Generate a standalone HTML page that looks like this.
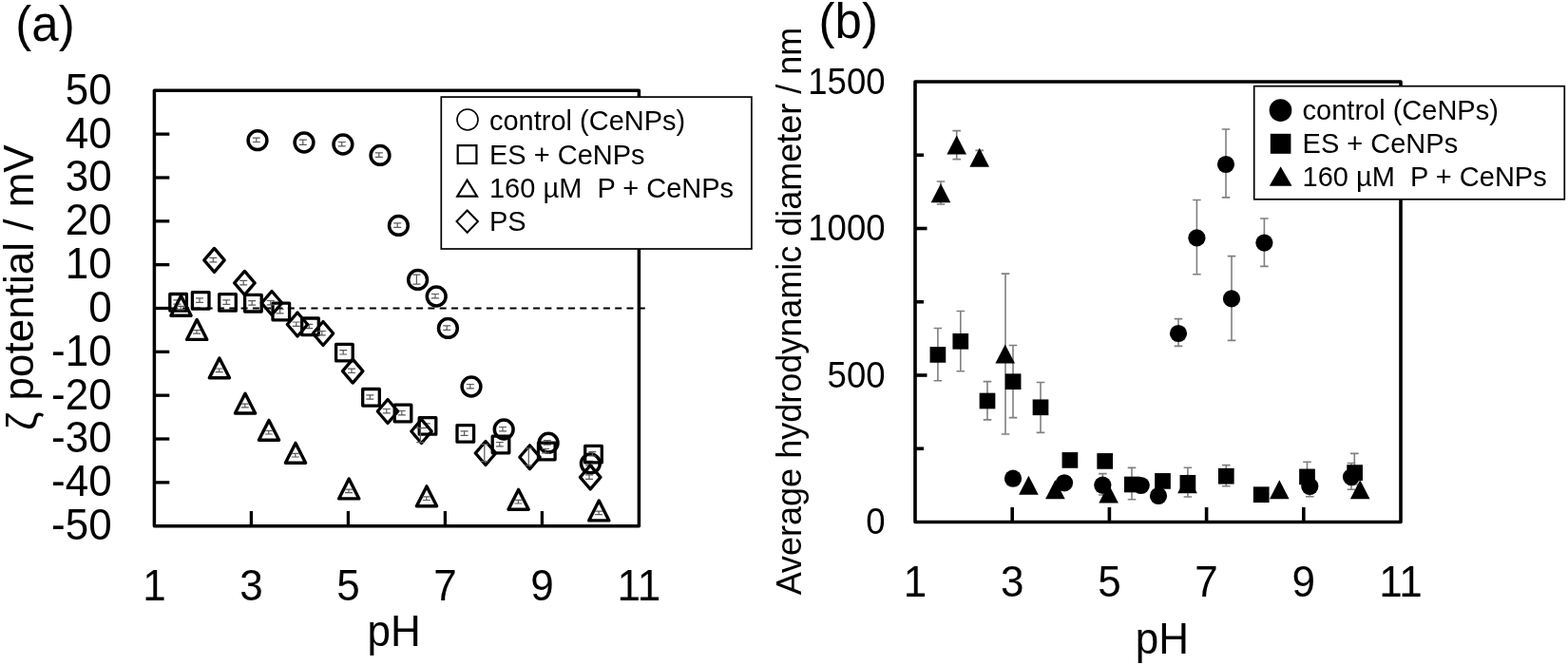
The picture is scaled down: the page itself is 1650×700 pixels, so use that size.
<!DOCTYPE html><html><head><meta charset="utf-8"><title>Figure</title>
<style>html,body{margin:0;padding:0;background:#fff;}svg{display:block;}</style></head><body>
<svg width="1650" height="700" viewBox="0 0 1650 700" style="font-family:'Liberation Sans',Arial,Helvetica,sans-serif" fill="#000">
<rect width="1650" height="700" fill="#fff"/>
<text x="16.30" y="43.20" font-size="51" text-anchor="start">(a)</text>
<text transform="translate(35,453) rotate(-90) scale(1,1.02)" font-size="44"><tspan dy="3">ζ</tspan><tspan dy="-3"> potential / mV</tspan></text>
<text transform="translate(117.60,109.70) scale(1,1.04)" font-size="44" text-anchor="end">50</text>
<text transform="translate(117.60,155.54) scale(1,1.04)" font-size="44" text-anchor="end">40</text>
<text transform="translate(117.60,201.38) scale(1,1.04)" font-size="44" text-anchor="end">30</text>
<text transform="translate(117.60,247.22) scale(1,1.04)" font-size="44" text-anchor="end">20</text>
<text transform="translate(117.60,293.06) scale(1,1.04)" font-size="44" text-anchor="end">10</text>
<text transform="translate(117.60,338.90) scale(1,1.04)" font-size="44" text-anchor="end">0</text>
<text transform="translate(117.60,384.74) scale(1,1.04)" font-size="44" text-anchor="end">-10</text>
<text transform="translate(117.60,430.58) scale(1,1.04)" font-size="44" text-anchor="end">-20</text>
<text transform="translate(117.60,476.42) scale(1,1.04)" font-size="44" text-anchor="end">-30</text>
<text transform="translate(117.60,522.26) scale(1,1.04)" font-size="44" text-anchor="end">-40</text>
<text transform="translate(117.60,568.10) scale(1,1.04)" font-size="44" text-anchor="end">-50</text>
<text transform="translate(162.40,632.00) scale(1,1.04)" font-size="44" text-anchor="middle">1</text>
<text transform="translate(264.40,632.00) scale(1,1.04)" font-size="44" text-anchor="middle">3</text>
<text transform="translate(366.40,632.00) scale(1,1.04)" font-size="44" text-anchor="middle">5</text>
<text transform="translate(468.40,632.00) scale(1,1.04)" font-size="44" text-anchor="middle">7</text>
<text transform="translate(570.40,632.00) scale(1,1.04)" font-size="44" text-anchor="middle">9</text>
<text transform="translate(672.40,632.00) scale(1,1.04)" font-size="44" text-anchor="middle">11</text>
<text transform="translate(414.70,680.00) scale(1,1.04)" font-size="44" text-anchor="middle">pH</text>
<line x1="164" y1="324.50" x2="679" y2="324.50" stroke="#000" stroke-width="2" stroke-dasharray="7 5.3" stroke-dashoffset="8.8"/>
<rect x="162.4" y="95.3" width="510.0" height="458.40000000000003" fill="none" stroke="#000" stroke-width="3.5" stroke-linejoin="round"/>
<line x1="162.4" y1="141.14" x2="178.3" y2="141.14" stroke="#000" stroke-width="3.3"/>
<line x1="162.4" y1="186.98" x2="178.3" y2="186.98" stroke="#000" stroke-width="3.3"/>
<line x1="162.4" y1="232.82" x2="178.3" y2="232.82" stroke="#000" stroke-width="3.3"/>
<line x1="162.4" y1="278.66" x2="178.3" y2="278.66" stroke="#000" stroke-width="3.3"/>
<line x1="162.4" y1="324.50" x2="178.3" y2="324.50" stroke="#000" stroke-width="3.3"/>
<line x1="162.4" y1="370.34" x2="178.3" y2="370.34" stroke="#000" stroke-width="3.3"/>
<line x1="162.4" y1="416.18" x2="178.3" y2="416.18" stroke="#000" stroke-width="3.3"/>
<line x1="162.4" y1="462.02" x2="178.3" y2="462.02" stroke="#000" stroke-width="3.3"/>
<line x1="162.4" y1="507.86" x2="178.3" y2="507.86" stroke="#000" stroke-width="3.3"/>
<line x1="264.40" y1="553.7" x2="264.40" y2="538" stroke="#000" stroke-width="3.3"/>
<line x1="366.40" y1="553.7" x2="366.40" y2="538" stroke="#000" stroke-width="3.3"/>
<line x1="468.40" y1="553.7" x2="468.40" y2="538" stroke="#000" stroke-width="3.3"/>
<line x1="570.40" y1="553.7" x2="570.40" y2="538" stroke="#000" stroke-width="3.3"/>
<circle cx="271" cy="147.65" r="9.9" fill="none" stroke="#000" stroke-width="3.5"/>
<path d="M269.8 145.2V149.5M265.8 145.2H273.8M265.8 149.5H273.8" stroke="#5a5a5a" stroke-width="1.2" fill="none"/>
<circle cx="320" cy="150" r="9.9" fill="none" stroke="#000" stroke-width="3.5"/>
<path d="M318.8 147.1V152.3M314.8 147.1H322.8M314.8 152.3H322.8" stroke="#5a5a5a" stroke-width="1.2" fill="none"/>
<circle cx="360.9" cy="152" r="9.9" fill="none" stroke="#000" stroke-width="3.5"/>
<path d="M359.7 149.5V153.9M355.7 149.5H363.7M355.7 153.9H363.7" stroke="#5a5a5a" stroke-width="1.2" fill="none"/>
<circle cx="400" cy="163.4" r="9.9" fill="none" stroke="#000" stroke-width="3.5"/>
<path d="M398.8 160.9V165.3M394.8 160.9H402.8M394.8 165.3H402.8" stroke="#5a5a5a" stroke-width="1.2" fill="none"/>
<circle cx="419.4" cy="237.4" r="9.9" fill="none" stroke="#000" stroke-width="3.5"/>
<path d="M418.2 234.9V239.3M414.2 234.9H422.2M414.2 239.3H422.2" stroke="#5a5a5a" stroke-width="1.2" fill="none"/>
<circle cx="439.6" cy="294.4" r="9.9" fill="none" stroke="#000" stroke-width="3.5"/>
<path d="M438.4 289.1V299.1M434.4 289.1H442.4M434.4 299.1H442.4" stroke="#5a5a5a" stroke-width="1.2" fill="none"/>
<circle cx="459.2" cy="312" r="9.9" fill="none" stroke="#000" stroke-width="3.5"/>
<path d="M458.0 309.5V313.9M454.0 309.5H462.0M454.0 313.9H462.0" stroke="#5a5a5a" stroke-width="1.2" fill="none"/>
<circle cx="471.4" cy="345.4" r="9.9" fill="none" stroke="#000" stroke-width="3.5"/>
<path d="M470.2 342.9V347.3M466.2 342.9H474.2M466.2 347.3H474.2" stroke="#5a5a5a" stroke-width="1.2" fill="none"/>
<circle cx="496" cy="407" r="9.9" fill="none" stroke="#000" stroke-width="3.5"/>
<path d="M494.8 404.5V408.9M490.8 404.5H498.8M490.8 408.9H498.8" stroke="#5a5a5a" stroke-width="1.2" fill="none"/>
<circle cx="530.2" cy="452" r="9.9" fill="none" stroke="#000" stroke-width="3.5"/>
<path d="M529.0 449.5V453.9M525.0 449.5H533.0M525.0 453.9H533.0" stroke="#5a5a5a" stroke-width="1.2" fill="none"/>
<circle cx="577.1" cy="466.2" r="9.9" fill="none" stroke="#000" stroke-width="3.5"/>
<path d="M575.9 463.7V468.1M571.9 463.7H579.9M571.9 468.1H579.9" stroke="#5a5a5a" stroke-width="1.2" fill="none"/>
<circle cx="621.4" cy="487.9" r="9.9" fill="none" stroke="#000" stroke-width="3.5"/>
<path d="M620.2 485.4V489.8M616.2 485.4H624.2M616.2 489.8H624.2" stroke="#5a5a5a" stroke-width="1.2" fill="none"/>
<rect x="178.80" y="309.50" width="17.60" height="17.60" fill="none" stroke="#000" stroke-width="3.3" stroke-linejoin="round"/>
<path d="M186.4 315.8V320.2M182.4 315.8H190.4M182.4 320.2H190.4" stroke="#5a5a5a" stroke-width="1.2" fill="none"/>
<rect x="202.40" y="307.60" width="17.60" height="17.60" fill="none" stroke="#000" stroke-width="3.3" stroke-linejoin="round"/>
<path d="M210.0 313.9V318.3M206.0 313.9H214.0M206.0 318.3H214.0" stroke="#5a5a5a" stroke-width="1.2" fill="none"/>
<rect x="230.70" y="309.60" width="17.60" height="17.60" fill="none" stroke="#000" stroke-width="3.3" stroke-linejoin="round"/>
<path d="M238.3 315.9V320.3M234.3 315.9H242.3M234.3 320.3H242.3" stroke="#5a5a5a" stroke-width="1.2" fill="none"/>
<rect x="257.60" y="310.40" width="17.60" height="17.60" fill="none" stroke="#000" stroke-width="3.3" stroke-linejoin="round"/>
<path d="M265.2 316.7V321.1M261.2 316.7H269.2M261.2 321.1H269.2" stroke="#5a5a5a" stroke-width="1.2" fill="none"/>
<rect x="287.00" y="319.20" width="17.60" height="17.60" fill="none" stroke="#000" stroke-width="3.3" stroke-linejoin="round"/>
<path d="M294.6 325.5V329.9M290.6 325.5H298.6M290.6 329.9H298.6" stroke="#5a5a5a" stroke-width="1.2" fill="none"/>
<rect x="317.70" y="335.00" width="17.60" height="17.60" fill="none" stroke="#000" stroke-width="3.3" stroke-linejoin="round"/>
<path d="M325.3 341.3V345.7M321.3 341.3H329.3M321.3 345.7H329.3" stroke="#5a5a5a" stroke-width="1.2" fill="none"/>
<rect x="353.60" y="362.30" width="17.60" height="17.60" fill="none" stroke="#000" stroke-width="3.3" stroke-linejoin="round"/>
<path d="M361.2 368.6V373.0M357.2 368.6H365.2M357.2 373.0H365.2" stroke="#5a5a5a" stroke-width="1.2" fill="none"/>
<rect x="381.70" y="409.50" width="17.60" height="17.60" fill="none" stroke="#000" stroke-width="3.3" stroke-linejoin="round"/>
<path d="M389.3 415.8V420.2M385.3 415.8H393.3M385.3 420.2H393.3" stroke="#5a5a5a" stroke-width="1.2" fill="none"/>
<rect x="415.20" y="426.20" width="17.60" height="17.60" fill="none" stroke="#000" stroke-width="3.3" stroke-linejoin="round"/>
<path d="M422.8 432.5V436.9M418.8 432.5H426.8M418.8 436.9H426.8" stroke="#5a5a5a" stroke-width="1.2" fill="none"/>
<rect x="441.20" y="439.60" width="17.60" height="17.60" fill="none" stroke="#000" stroke-width="3.3" stroke-linejoin="round"/>
<path d="M448.8 445.9V450.3M444.8 445.9H452.8M444.8 450.3H452.8" stroke="#5a5a5a" stroke-width="1.2" fill="none"/>
<rect x="481.00" y="447.60" width="17.60" height="17.60" fill="none" stroke="#000" stroke-width="3.3" stroke-linejoin="round"/>
<path d="M488.6 453.9V458.3M484.6 453.9H492.6M484.6 458.3H492.6" stroke="#5a5a5a" stroke-width="1.2" fill="none"/>
<rect x="518.20" y="459.20" width="17.60" height="17.60" fill="none" stroke="#000" stroke-width="3.3" stroke-linejoin="round"/>
<path d="M525.8 465.5V469.9M521.8 465.5H529.8M521.8 469.9H529.8" stroke="#5a5a5a" stroke-width="1.2" fill="none"/>
<rect x="566.50" y="466.20" width="17.60" height="17.60" fill="none" stroke="#000" stroke-width="3.3" stroke-linejoin="round"/>
<path d="M574.1 472.5V476.9M570.1 472.5H578.1M570.1 476.9H578.1" stroke="#5a5a5a" stroke-width="1.2" fill="none"/>
<rect x="615.70" y="469.30" width="17.60" height="17.60" fill="none" stroke="#000" stroke-width="3.3" stroke-linejoin="round"/>
<path d="M623.3 475.6V480.0M619.3 475.6H627.3M619.3 480.0H627.3" stroke="#5a5a5a" stroke-width="1.2" fill="none"/>
<path d="M190.50 311.40L201.10 332.20L179.90 332.20Z" fill="none" stroke="#000" stroke-width="3.4" stroke-linejoin="round"/>
<path d="M190.3 322.4V326.0M186.3 322.4H194.3M186.3 326.0H194.3" stroke="#5a5a5a" stroke-width="1.2" fill="none"/>
<path d="M207.20 336.60L217.80 357.40L196.60 357.40Z" fill="none" stroke="#000" stroke-width="3.4" stroke-linejoin="round"/>
<path d="M207.0 347.6V351.2M203.0 347.6H211.0M203.0 351.2H211.0" stroke="#5a5a5a" stroke-width="1.2" fill="none"/>
<path d="M230.90 377.00L241.50 397.80L220.30 397.80Z" fill="none" stroke="#000" stroke-width="3.4" stroke-linejoin="round"/>
<path d="M230.7 388.0V391.6M226.7 388.0H234.7M226.7 391.6H234.7" stroke="#5a5a5a" stroke-width="1.2" fill="none"/>
<path d="M258.00 414.20L268.60 435.00L247.40 435.00Z" fill="none" stroke="#000" stroke-width="3.4" stroke-linejoin="round"/>
<path d="M257.8 425.2V428.8M253.8 425.2H261.8M253.8 428.8H261.8" stroke="#5a5a5a" stroke-width="1.2" fill="none"/>
<path d="M283.00 442.40L293.60 463.20L272.40 463.20Z" fill="none" stroke="#000" stroke-width="3.4" stroke-linejoin="round"/>
<path d="M282.8 453.4V457.0M278.8 453.4H286.8M278.8 457.0H286.8" stroke="#5a5a5a" stroke-width="1.2" fill="none"/>
<path d="M311.00 466.40L321.60 487.20L300.40 487.20Z" fill="none" stroke="#000" stroke-width="3.4" stroke-linejoin="round"/>
<path d="M310.8 477.4V481.0M306.8 477.4H314.8M306.8 481.0H314.8" stroke="#5a5a5a" stroke-width="1.2" fill="none"/>
<path d="M367.20 504.10L377.80 524.90L356.60 524.90Z" fill="none" stroke="#000" stroke-width="3.4" stroke-linejoin="round"/>
<path d="M367.0 515.1V518.7M363.0 515.1H371.0M363.0 518.7H371.0" stroke="#5a5a5a" stroke-width="1.2" fill="none"/>
<path d="M449.00 511.90L459.60 532.70L438.40 532.70Z" fill="none" stroke="#000" stroke-width="3.4" stroke-linejoin="round"/>
<path d="M448.8 522.9V526.5M444.8 522.9H452.8M444.8 526.5H452.8" stroke="#5a5a5a" stroke-width="1.2" fill="none"/>
<path d="M545.60 515.40L556.20 536.20L535.00 536.20Z" fill="none" stroke="#000" stroke-width="3.4" stroke-linejoin="round"/>
<path d="M545.4 526.4V530.0M541.4 526.4H549.4M541.4 530.0H549.4" stroke="#5a5a5a" stroke-width="1.2" fill="none"/>
<path d="M630.30 527.10L640.90 547.90L619.70 547.90Z" fill="none" stroke="#000" stroke-width="3.4" stroke-linejoin="round"/>
<path d="M630.1 538.1V541.7M626.1 538.1H634.1M626.1 541.7H634.1" stroke="#5a5a5a" stroke-width="1.2" fill="none"/>
<path d="M225.50 261.40L236.20 273.90L225.50 286.40L214.80 273.90Z" fill="none" stroke="#000" stroke-width="3.3" stroke-linejoin="round"/>
<path d="M224.3 271.4V275.8M220.3 271.4H228.3M220.3 275.8H228.3" stroke="#5a5a5a" stroke-width="1.2" fill="none"/>
<path d="M257.40 285.40L268.10 297.90L257.40 310.40L246.70 297.90Z" fill="none" stroke="#000" stroke-width="3.3" stroke-linejoin="round"/>
<path d="M256.2 295.4V299.8M252.2 295.4H260.2M252.2 299.8H260.2" stroke="#5a5a5a" stroke-width="1.2" fill="none"/>
<path d="M286.00 306.50L296.70 319.00L286.00 331.50L275.30 319.00Z" fill="none" stroke="#000" stroke-width="3.3" stroke-linejoin="round"/>
<path d="M284.8 316.5V320.9M280.8 316.5H288.8M280.8 320.9H288.8" stroke="#5a5a5a" stroke-width="1.2" fill="none"/>
<path d="M313.00 329.00L323.70 341.50L313.00 354.00L302.30 341.50Z" fill="none" stroke="#000" stroke-width="3.3" stroke-linejoin="round"/>
<path d="M311.8 339.0V343.4M307.8 339.0H315.8M307.8 343.4H315.8" stroke="#5a5a5a" stroke-width="1.2" fill="none"/>
<path d="M340.00 338.50L350.70 351.00L340.00 363.50L329.30 351.00Z" fill="none" stroke="#000" stroke-width="3.3" stroke-linejoin="round"/>
<path d="M338.8 348.5V352.9M334.8 348.5H342.8M334.8 352.9H342.8" stroke="#5a5a5a" stroke-width="1.2" fill="none"/>
<path d="M371.20 378.10L381.90 390.60L371.20 403.10L360.50 390.60Z" fill="none" stroke="#000" stroke-width="3.3" stroke-linejoin="round"/>
<path d="M370.0 388.1V392.5M366.0 388.1H374.0M366.0 392.5H374.0" stroke="#5a5a5a" stroke-width="1.2" fill="none"/>
<path d="M408.00 420.50L418.70 433.00L408.00 445.50L397.30 433.00Z" fill="none" stroke="#000" stroke-width="3.3" stroke-linejoin="round"/>
<path d="M406.8 430.5V434.9M402.8 430.5H410.8M402.8 434.9H410.8" stroke="#5a5a5a" stroke-width="1.2" fill="none"/>
<path d="M443.50 441.50L454.20 454.00L443.50 466.50L432.80 454.00Z" fill="none" stroke="#000" stroke-width="3.3" stroke-linejoin="round"/>
<path d="M442.3 450.7V465.7M438.3 450.7H446.3M438.3 465.7H446.3" stroke="#5a5a5a" stroke-width="1.2" fill="none"/>
<path d="M511.00 464.50L521.70 477.00L511.00 489.50L500.30 477.00Z" fill="none" stroke="#000" stroke-width="3.3" stroke-linejoin="round"/>
<path d="M509.8 467.7V485.7M505.8 467.7H513.8M505.8 485.7H513.8" stroke="#5a5a5a" stroke-width="1.2" fill="none"/>
<path d="M557.50 468.70L568.20 481.20L557.50 493.70L546.80 481.20Z" fill="none" stroke="#000" stroke-width="3.3" stroke-linejoin="round"/>
<path d="M556.3 471.9V489.9M552.3 471.9H560.3M552.3 489.9H560.3" stroke="#5a5a5a" stroke-width="1.2" fill="none"/>
<path d="M621.20 489.90L631.90 502.40L621.20 514.90L610.50 502.40Z" fill="none" stroke="#000" stroke-width="3.3" stroke-linejoin="round"/>
<path d="M620.0 499.9V504.3M616.0 499.9H624.0M616.0 504.3H624.0" stroke="#5a5a5a" stroke-width="1.2" fill="none"/>
<rect x="464.3" y="102.1" width="326.6" height="159.9" fill="#fff" stroke="#000" stroke-width="1.7"/>
<circle cx="492" cy="126" r="11" fill="#fff" stroke="#000" stroke-width="1.6"/>
<rect x="481.7" y="153.1" width="19.7" height="18.9" fill="#fff" stroke="#000" stroke-width="2.2"/>
<path d="M491.6 189.6L502 206.6L481.2 206.6Z" fill="#fff" stroke="#000" stroke-width="2.1" stroke-linejoin="miter"/>
<path d="M491.70 221.50L502.90 233.10L491.70 244.70L480.50 233.10Z" fill="#fff" stroke="#000" stroke-width="2.0" stroke-linejoin="miter"/>
<text transform="translate(515.00,137.00) scale(1,1.02)" font-size="29" text-anchor="start">control (CeNPs)</text>
<text transform="translate(515.00,172.80) scale(1,1.02)" font-size="29" text-anchor="start">ES + CeNPs</text>
<text transform="translate(515.00,208.00) scale(1,1.02)" font-size="29" text-anchor="start">160 µM&#160; P + CeNPs</text>
<text transform="translate(515.00,243.40) scale(1,1.02)" font-size="29" text-anchor="start">PS</text>
<text x="861.60" y="39.50" font-size="51" text-anchor="start">(b)</text>
<text transform="translate(842.5,626.3) rotate(-90) scale(1,1.02)" font-size="36">Average hydrodynamic diameter / nm</text>
<text transform="translate(931.50,562.10) scale(1,1.04)" font-size="36.5" text-anchor="end">0</text>
<text transform="translate(931.50,407.60) scale(1,1.04)" font-size="36.5" text-anchor="end">500</text>
<text transform="translate(931.50,253.10) scale(1,1.04)" font-size="36.5" text-anchor="end">1000</text>
<text transform="translate(931.50,98.60) scale(1,1.04)" font-size="36.5" text-anchor="end">1500</text>
<text transform="translate(963.00,627.80) scale(1,1.04)" font-size="44" text-anchor="middle">1</text>
<text transform="translate(1065.20,627.80) scale(1,1.04)" font-size="44" text-anchor="middle">3</text>
<text transform="translate(1167.40,627.80) scale(1,1.04)" font-size="44" text-anchor="middle">5</text>
<text transform="translate(1269.60,627.80) scale(1,1.04)" font-size="44" text-anchor="middle">7</text>
<text transform="translate(1371.80,627.80) scale(1,1.04)" font-size="44" text-anchor="middle">9</text>
<text transform="translate(1474.00,627.80) scale(1,1.04)" font-size="44" text-anchor="middle">11</text>
<text transform="translate(1222.80,687.60) scale(1,1.04)" font-size="44" text-anchor="middle">pH</text>
<path d="M1290 136V207.9M1285.7 136H1294.3M1285.7 207.9H1294.3" stroke="#808080" stroke-width="1.6" fill="none"/>
<path d="M1259.4 210.5V288.7M1255.1000000000001 210.5H1263.7M1255.1000000000001 288.7H1263.7" stroke="#808080" stroke-width="1.6" fill="none"/>
<path d="M1330.4 230V280.4M1326.1000000000001 230H1334.7M1326.1000000000001 280.4H1334.7" stroke="#808080" stroke-width="1.6" fill="none"/>
<path d="M1296 269.6V358.4M1291.7 269.6H1300.3M1291.7 358.4H1300.3" stroke="#808080" stroke-width="1.6" fill="none"/>
<path d="M1240 335.6V364.4M1235.7 335.6H1244.3M1235.7 364.4H1244.3" stroke="#808080" stroke-width="1.6" fill="none"/>
<path d="M1160.3 498.6V521M1156.0 498.6H1164.6M1156.0 521H1164.6" stroke="#808080" stroke-width="1.6" fill="none"/>
<path d="M1378.3 505V522.8M1374.0 505H1382.6M1374.0 522.8H1382.6" stroke="#808080" stroke-width="1.6" fill="none"/>
<path d="M1422 487.5V515.2M1417.7 487.5H1426.3M1417.7 515.2H1426.3" stroke="#808080" stroke-width="1.6" fill="none"/>
<path d="M986.9 345.5V400.8M982.6 345.5H991.1999999999999M982.6 400.8H991.1999999999999" stroke="#808080" stroke-width="1.6" fill="none"/>
<path d="M1010.8 327.5V390.8M1006.5 327.5H1015.0999999999999M1006.5 390.8H1015.0999999999999" stroke="#808080" stroke-width="1.6" fill="none"/>
<path d="M1039 401.6V441.9M1034.7 401.6H1043.3M1034.7 441.9H1043.3" stroke="#808080" stroke-width="1.6" fill="none"/>
<path d="M1066 363.5V439.6M1061.7 363.5H1070.3M1061.7 439.6H1070.3" stroke="#808080" stroke-width="1.6" fill="none"/>
<path d="M1095 402.5V455.4M1090.7 402.5H1099.3M1090.7 455.4H1099.3" stroke="#808080" stroke-width="1.6" fill="none"/>
<path d="M1191 492.4V525.7M1186.7 492.4H1195.3M1186.7 525.7H1195.3" stroke="#808080" stroke-width="1.6" fill="none"/>
<path d="M1249.9 492.2V523M1245.6000000000001 492.2H1254.2M1245.6000000000001 523H1254.2" stroke="#808080" stroke-width="1.6" fill="none"/>
<path d="M1290.3 489.6V511.8M1286.0 489.6H1294.6M1286.0 511.8H1294.6" stroke="#808080" stroke-width="1.6" fill="none"/>
<path d="M1375.5 486.3V515M1371.2 486.3H1379.8M1371.2 515H1379.8" stroke="#808080" stroke-width="1.6" fill="none"/>
<path d="M1425.3 477.4V510M1421.0 477.4H1429.6M1421.0 510H1429.6" stroke="#808080" stroke-width="1.6" fill="none"/>
<path d="M1006.7 137.6V167.6M1002.4000000000001 137.6H1011.0M1002.4000000000001 167.6H1011.0" stroke="#808080" stroke-width="1.6" fill="none"/>
<path d="M1030.7 158.4V170M1026.4 158.4H1035.0M1026.4 170H1035.0" stroke="#808080" stroke-width="1.6" fill="none"/>
<path d="M990 191V215M985.7 191H994.3M985.7 215H994.3" stroke="#808080" stroke-width="1.6" fill="none"/>
<path d="M1058 288.1V457M1053.7 288.1H1062.3M1053.7 457H1062.3" stroke="#808080" stroke-width="1.6" fill="none"/>
<rect x="963.0" y="86.0" width="511.0" height="463.5" fill="none" stroke="#000" stroke-width="3.6" stroke-linejoin="round"/>
<line x1="963.0" y1="472.25" x2="972" y2="472.25" stroke="#000" stroke-width="3.6"/>
<line x1="963.0" y1="395.00" x2="975.5" y2="395.00" stroke="#000" stroke-width="3.6"/>
<line x1="963.0" y1="317.75" x2="972" y2="317.75" stroke="#000" stroke-width="3.6"/>
<line x1="963.0" y1="240.50" x2="975.5" y2="240.50" stroke="#000" stroke-width="3.6"/>
<line x1="963.0" y1="163.25" x2="972" y2="163.25" stroke="#000" stroke-width="3.6"/>
<line x1="1065.20" y1="549.5" x2="1065.20" y2="534" stroke="#000" stroke-width="3.6"/>
<line x1="1167.40" y1="549.5" x2="1167.40" y2="534" stroke="#000" stroke-width="3.6"/>
<line x1="1269.60" y1="549.5" x2="1269.60" y2="534" stroke="#000" stroke-width="3.6"/>
<line x1="1371.80" y1="549.5" x2="1371.80" y2="534" stroke="#000" stroke-width="3.6"/>
<circle cx="1066" cy="503.7" r="9.1"/>
<circle cx="1120" cy="508.3" r="9.1"/>
<circle cx="1160.3" cy="510.7" r="9.1"/>
<circle cx="1200.7" cy="511" r="9.1"/>
<circle cx="1219" cy="522" r="9.1"/>
<circle cx="1240" cy="351" r="9.1"/>
<circle cx="1259.4" cy="250.4" r="9.1"/>
<circle cx="1290" cy="173" r="9.1"/>
<circle cx="1296" cy="314.4" r="9.1"/>
<circle cx="1330.4" cy="255.6" r="9.1"/>
<circle cx="1378.3" cy="512" r="9.1"/>
<circle cx="1422" cy="502.1" r="9.1"/>
<rect x="978.55" y="365.05" width="16.7" height="16.7"/>
<rect x="1002.45" y="350.95" width="16.7" height="16.7"/>
<rect x="1030.65" y="413.65" width="16.7" height="16.7"/>
<rect x="1057.75" y="393.35" width="16.7" height="16.7"/>
<rect x="1086.65" y="420.45" width="16.7" height="16.7"/>
<rect x="1117.55" y="476.05" width="16.7" height="16.7"/>
<rect x="1154.35" y="477.05" width="16.7" height="16.7"/>
<rect x="1182.95" y="501.65" width="16.7" height="16.7"/>
<rect x="1215.15" y="498.05" width="16.7" height="16.7"/>
<rect x="1241.55" y="499.95" width="16.7" height="16.7"/>
<rect x="1281.95" y="492.85" width="16.7" height="16.7"/>
<rect x="1318.85" y="512.35" width="16.7" height="16.7"/>
<rect x="1367.15" y="493.55" width="16.7" height="16.7"/>
<rect x="1417.25" y="489.25" width="16.7" height="16.7"/>
<path d="M990.00 193.30L1000.30 213.30L979.70 213.30Z"/>
<path d="M1006.70 142.40L1017.00 162.40L996.40 162.40Z"/>
<path d="M1030.70 155.80L1041.00 175.80L1020.40 175.80Z"/>
<path d="M1057.70 362.60L1068.00 382.60L1047.40 382.60Z"/>
<path d="M1082.40 500.70L1092.70 520.70L1072.10 520.70Z"/>
<path d="M1110.40 505.30L1120.70 525.30L1100.10 525.30Z"/>
<path d="M1166.60 509.60L1176.90 529.60L1156.30 529.60Z"/>
<path d="M1249.50 499.30L1259.80 519.30L1239.20 519.30Z"/>
<path d="M1346.30 505.20L1356.60 525.20L1336.00 525.20Z"/>
<path d="M1431.20 505.20L1441.50 525.20L1420.90 525.20Z"/>
<rect x="1319.7" y="90.7" width="326.6" height="119.1" fill="#fff" stroke="#000" stroke-width="1.7"/>
<circle cx="1347.5" cy="116.1" r="11.85"/>
<rect x="1336.8" y="140.8" width="21.6" height="21"/>
<path d="M1347.6 175.2L1359.5 195.8L1335.8 195.8Z"/>
<text transform="translate(1370.60,125.70) scale(1,1.02)" font-size="29" text-anchor="start">control (CeNPs)</text>
<text transform="translate(1370.60,160.80) scale(1,1.02)" font-size="29" text-anchor="start">ES + CeNPs</text>
<text transform="translate(1370.60,195.80) scale(1,1.02)" font-size="29" text-anchor="start">160 µM&#160; P + CeNPs</text>
</svg></body></html>
